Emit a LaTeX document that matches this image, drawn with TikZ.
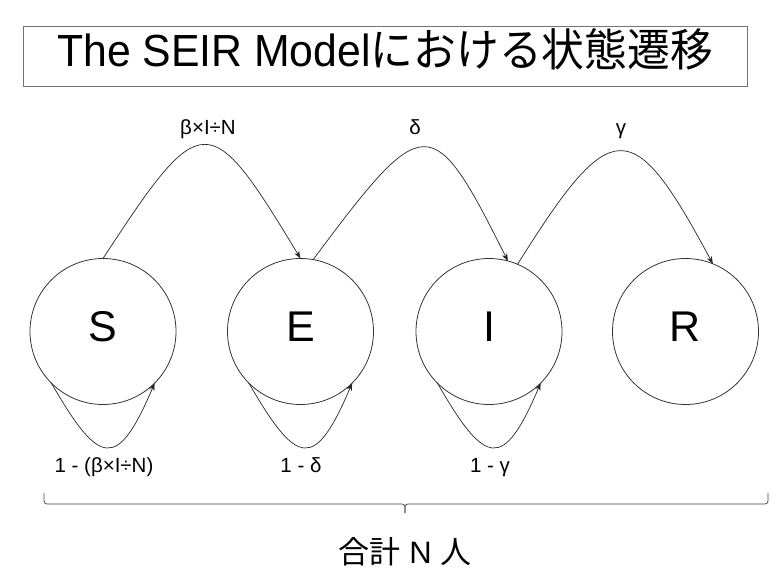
\documentclass[tikz,border=0pt]{standalone}
\usepackage{fontspec}
\setmainfont{Liberation Sans}
\newfontfamily\jp{Noto Sans CJK JP}
\newfontfamily\titlelat[FakeStretch=0.95]{Liberation Sans}
\newfontfamily\titlejp[FakeStretch=0.95]{Noto Sans CJK JP}
\usetikzlibrary{arrows.meta}
\begin{document}
\begin{tikzpicture}[x=1pt,y=1pt,
  state/.style={circle,draw=black!80,line width=0.8pt,minimum size=146pt,inner sep=0pt,outer sep=0pt,
    font=\fontsize{43}{50}\selectfont,text height=31pt,text depth=11pt},
  flow/.style={draw=black!85,line width=0.7pt,-{Stealth[length=7.5pt,width=5.5pt]}},
  lbl/.style={font=\fontsize{20.5}{24}\selectfont,anchor=base,inner sep=0pt},
  titlebox/.style={draw=black!55,line width=0.8pt,minimum width=724pt,minimum height=60pt,inner sep=0pt,
    font=\fontsize{45}{54}\selectfont,text height=32pt,text depth=10pt},
  bracepath/.style={draw=black!75,line width=0.7pt,rounded corners=3pt},
]
\useasboundingbox (0,0) rectangle (783,586);

% title
\node[titlebox] (title) at (385,530) {\titlelat The SEIR Model{\titlejp における状態遷移}};

% states
\node[state] (S) at (103,254.5) {S};
\node[state] (E) at (300.5,254.5) {E};
\node[state] (I) at (489,254.5) {I};
\node[state] (R) at (685.5,254.5) {R};

% transitions
\draw[flow] (S.90) .. controls +(99,151.5) and +(-91.5,151.5) .. (E.90);
\draw[flow] (E.80) .. controls +(111.8,150.1) and +(-75.9,151.5) .. (I.75);
\draw[flow] (I.67) .. controls +(94.5,150.8) and +(-80.8,150.3) .. (R.68);

\node[lbl] (lSE) at (208,451) {β×I÷N};
\node[lbl] (lEI) at (415,451) {δ};
\node[lbl] (lIR) at (621,451) {γ};

% self loops
\draw[flow] (S.225) .. controls +(-60:96) and +(-113:96) .. (S.315);
\draw[flow] (E.225) .. controls +(-60:96) and +(-113:96) .. (E.315);
\draw[flow] (I.225) .. controls +(-60:96) and +(-113:96) .. (I.315);

\node[lbl] (lS) at (104,114) {1 - (β×I÷N)};
\node[lbl] (lE) at (301,114) {1 - δ};
\node[lbl] (lI) at (490,114) {1 - γ};

% brace
\coordinate (bl) at (44,93);
\coordinate (br) at (768,93);
\coordinate (bm) at (405,73);
\draw[bracepath] (bl) -- (44,82) -- (405,82) -- (bm);
\draw[bracepath] (br) -- (768,82) -- (405,82) -- (bm);

\node[font=\fontsize{31}{36}\selectfont,anchor=base,inner sep=0pt] (total) at (405,23) {{\jp 合計} N {\jp 人}};
\end{tikzpicture}
\end{document}
